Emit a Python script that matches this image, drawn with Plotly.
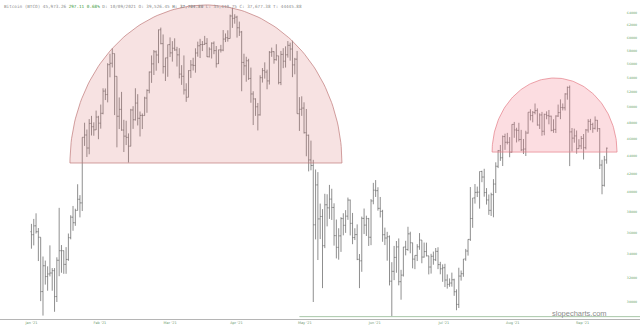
import math
import pandas as pd
import plotly.graph_objects as go

# ---------------- data (USD thousands) ----------------
dates = pd.date_range("2021-01-17", "2021-09-23", freq="D")

opens_k = [
    # Jan 17-31
    36.07, 35.79, 36.63, 36.07, 35.55, 30.83, 32.99, 32.07, 32.29, 32.37, 32.57, 30.43, 33.47, 34.32, 34.32,
    # Feb
    33.11, 33.54, 35.51, 37.47, 36.93, 38.14, 39.27, 38.90, 46.20, 46.48, 44.92, 47.91, 47.50, 47.11, 48.72,
    47.94, 49.20, 52.15, 51.68, 55.89, 56.10, 57.54, 54.21, 48.82, 49.71, 47.09, 46.34, 46.19,
    # Mar
    45.14, 49.63, 48.38, 50.54, 48.56, 48.93, 48.91, 51.21, 52.25, 54.82, 56.01, 57.81, 57.33, 61.24, 59.06,
    55.61, 56.90, 58.91, 57.65, 58.35, 58.09, 57.35, 54.53, 54.21, 52.30, 51.31, 55.03, 55.85, 55.78, 57.63, 58.73,
    # Apr
    58.92, 58.92, 59.10, 57.06, 58.21, 59.13, 57.99, 56.03, 58.10, 58.07, 59.77, 59.99, 59.86, 63.50, 63.11,
    63.31, 61.57, 60.89, 56.22, 55.72, 56.47, 53.91, 51.76, 51.09, 50.05, 49.00, 54.02, 55.03, 54.82, 53.56,
    # May
    57.75, 57.83, 56.63, 57.20, 53.33, 57.42, 56.40, 57.36, 58.80, 58.23, 55.86, 56.70, 49.15, 49.72, 49.88,
    46.76, 46.45, 43.54, 42.91, 36.73, 40.78, 37.30, 37.54, 34.77, 38.71, 38.40, 39.29, 38.44, 35.70, 34.62, 35.68,
    # Jun
    37.33, 36.68, 37.57, 39.19, 36.87, 35.52, 35.80, 33.55, 33.42, 37.35, 36.70, 37.33, 35.55, 39.10, 40.22,
    40.17, 38.35, 38.05, 35.79, 35.48, 35.60, 31.68, 32.51, 33.72, 34.66, 31.64, 32.19, 34.65, 34.43, 35.87,
    # Jul
    35.04, 33.57, 33.90, 34.67, 35.29, 33.75, 34.24, 33.86, 32.88, 33.82, 33.52, 34.26, 33.09, 32.73, 32.82,
    31.78, 31.42, 31.53, 31.80, 30.82, 29.81, 32.11, 32.31, 33.58, 34.29, 35.35, 37.34, 39.41, 39.99, 40.01, 42.24,
    # Aug
    41.63, 39.97, 39.20, 38.15, 39.75, 40.87, 42.82, 44.61, 43.79, 46.29, 45.60, 45.59, 44.43, 47.79, 47.10,
    47.05, 45.94, 44.70, 44.80, 46.72, 49.34, 48.91, 49.32, 49.55, 47.71, 48.99, 46.94, 49.06, 48.90, 48.83, 47.05,
    # Sep 1-23
    47.17, 48.85, 49.29, 49.96, 49.92, 51.76, 52.66, 46.86, 46.10, 46.37, 44.85, 45.17, 46.06, 44.96, 47.09,
    48.18, 47.78, 47.30, 48.31, 47.26, 42.96, 40.73, 43.54,
]
highs_k = [
    36.82, 37.30, 37.85, 36.42, 35.55, 33.80, 33.44, 32.94, 34.80, 32.79, 32.79, 33.73, 38.40, 34.83, 34.34,
    34.64, 35.90, 37.66, 38.59, 38.31, 40.85, 39.70, 46.20, 48.00, 47.15, 48.46, 48.87, 48.05, 49.55, 48.88,
    50.34, 52.53, 52.51, 56.11, 57.51, 58.35, 57.54, 54.21, 51.29, 52.04, 48.37, 48.25, 46.68,
    49.78, 50.13, 52.54, 51.73, 49.43, 49.18, 51.38, 52.39, 54.90, 57.26, 58.08, 58.01, 61.28, 61.60, 60.50,
    56.90, 58.91, 60.03, 59.45, 59.89, 58.57, 58.36, 55.82, 57.26, 53.23, 55.07, 56.57, 56.91, 58.34, 59.37, 59.80,
    59.46, 60.27, 59.92, 58.49, 59.26, 59.40, 58.69, 58.14, 58.87, 61.20, 60.66, 61.17, 63.73, 64.86, 63.79,
    63.54, 62.57, 61.06, 57.52, 57.06, 56.76, 55.47, 52.13, 51.17, 50.55, 54.36, 55.40, 56.23, 55.17, 57.92,
    58.45, 57.90, 58.97, 57.20, 57.94, 58.36, 58.64, 59.46, 59.21, 59.52, 56.90, 57.94, 51.33, 51.44, 50.64,
    49.76, 46.53, 45.80, 43.55, 42.46, 42.17, 38.83, 38.27, 39.84, 39.79, 40.78, 40.37, 38.86, 37.24, 36.40, 37.47,
    37.86, 38.17, 39.45, 39.24, 37.89, 36.40, 36.77, 34.02, 37.53, 38.33, 37.62, 37.40, 39.29, 41.00, 41.30,
    40.53, 39.51, 38.20, 36.46, 36.06, 35.72, 33.30, 34.75, 35.20, 35.44, 32.64, 34.66, 35.22, 36.54, 36.07,
    35.04, 33.90, 34.91, 35.94, 35.29, 35.06, 35.05, 33.86, 34.04, 34.24, 34.56, 34.63, 33.33, 33.11, 33.16,
    32.25, 31.91, 32.40, 31.89, 31.01, 32.82, 32.58, 33.58, 34.48, 35.36, 40.55, 39.41, 40.87, 40.60, 42.24, 42.32,
    42.54, 40.44, 39.77, 39.95, 41.40, 43.27, 44.69, 45.28, 46.42, 46.64, 46.74, 46.22, 47.81, 48.10, 47.37,
    47.99, 47.11, 46.00, 47.00, 49.34, 49.73, 49.49, 50.48, 49.84, 49.20, 49.38, 49.15, 49.45, 49.63, 48.90, 48.44,
    48.94, 50.34, 51.03, 50.49, 51.86, 52.78, 52.92, 47.34, 47.26, 47.03, 45.97, 46.36, 46.60, 47.22, 48.45,
    48.49, 48.00, 48.80, 48.35, 47.33, 43.56, 44.00, 44.98,
]
lows_k = [
    34.50, 34.80, 35.90, 33.40, 30.07, 28.95, 31.40, 30.90, 32.08, 30.90, 29.24, 30.00, 32.10, 32.39, 32.30,
    32.30, 33.42, 35.36, 36.16, 36.63, 38.14, 37.45, 38.08, 45.17, 43.88, 44.19, 46.42, 46.39, 47.09, 45.97,
    47.26, 49.07, 50.94, 50.63, 54.07, 55.48, 48.97, 45.00, 47.21, 47.00, 44.45, 45.27, 43.24,
    45.12, 47.23, 48.27, 47.66, 46.30, 47.21, 48.90, 49.27, 51.85, 53.29, 54.40, 55.01, 56.11, 58.96, 54.60,
    53.55, 54.14, 57.02, 56.34, 57.96, 55.62, 53.92, 53.01, 51.68, 50.70, 51.31, 53.98, 55.04, 54.73, 57.07, 56.87,
    57.92, 58.87, 57.02, 56.96, 56.80, 57.45, 55.47, 55.99, 57.70, 57.90, 59.30, 59.37, 59.86, 61.55, 62.23,
    60.00, 60.26, 52.13, 54.37, 53.45, 53.70, 50.58, 47.71, 48.87, 47.04, 48.90, 53.33, 53.89, 52.40, 53.05,
    57.05, 56.04, 56.48, 53.08, 52.97, 55.38, 55.47, 56.93, 56.48, 54.09, 54.50, 49.15, 46.98, 48.87, 46.66,
    43.96, 42.25, 42.37, 30.00, 35.35, 33.49, 35.38, 31.11, 34.55, 36.58, 37.30, 37.20, 34.78, 33.63, 33.52, 34.21,
    35.73, 35.96, 37.21, 35.72, 34.91, 35.29, 33.48, 31.11, 32.47, 35.85, 35.67, 34.75, 34.82, 38.76, 39.51,
    38.12, 37.44, 35.13, 34.83, 33.43, 31.33, 28.89, 31.77, 32.39, 31.34, 30.18, 32.07, 33.90, 34.31, 34.09,
    32.77, 32.70, 33.40, 34.40, 33.21, 33.70, 33.81, 32.25, 32.32, 33.08, 33.40, 32.70, 32.26, 31.63, 31.20,
    31.07, 31.22, 31.23, 30.49, 29.36, 29.53, 31.73, 32.05, 33.42, 33.88, 35.21, 36.44, 38.83, 39.50, 38.32, 41.07,
    39.54, 38.73, 37.70, 37.59, 37.46, 39.92, 42.62, 43.43, 42.85, 44.70, 45.35, 43.85, 44.39, 46.14, 45.58,
    45.70, 44.56, 44.22, 43.99, 46.64, 48.29, 48.05, 49.07, 47.64, 47.22, 46.39, 46.45, 48.44, 47.80, 46.93, 46.75,
    46.72, 48.73, 48.45, 49.57, 49.56, 50.99, 42.84, 44.52, 45.55, 44.26, 44.82, 44.79, 43.59, 44.75, 46.77,
    47.08, 46.75, 47.16, 46.87, 42.51, 39.79, 40.60, 43.11,
]
closes_k = [
    35.79, 36.63, 36.07, 35.55, 30.83, 32.99, 32.07, 32.29, 32.37, 32.57, 30.43, 33.47, 34.32, 34.32, 33.11,
    33.54, 35.51, 37.47, 36.93, 38.14, 39.27, 38.90, 46.20, 46.48, 44.92, 47.91, 47.50, 47.11, 48.72, 47.94,
    49.20, 52.15, 51.68, 55.89, 56.10, 57.54, 54.21, 48.82, 49.71, 47.09, 46.34, 46.19, 45.14,
    49.63, 48.38, 50.54, 48.56, 48.93, 48.91, 51.21, 52.25, 54.82, 56.01, 57.81, 57.33, 61.24, 59.06, 55.61,
    56.90, 58.91, 57.65, 58.35, 58.09, 57.35, 54.53, 54.21, 52.30, 51.31, 55.03, 55.85, 55.78, 57.63, 58.73, 58.92,
    58.92, 59.10, 57.06, 58.21, 59.13, 57.99, 56.03, 58.10, 58.07, 59.77, 59.99, 59.86, 63.50, 63.11, 63.31,
    61.57, 60.89, 56.22, 55.72, 56.47, 53.91, 51.76, 51.09, 50.05, 49.00, 54.02, 55.03, 54.82, 53.56, 57.75,
    57.83, 56.63, 57.20, 53.33, 57.42, 56.40, 57.36, 58.80, 58.23, 55.86, 56.70, 49.15, 49.72, 49.88, 46.76,
    46.45, 43.54, 42.91, 36.73, 40.78, 37.30, 37.54, 34.77, 38.71, 38.40, 39.29, 38.44, 35.70, 34.62, 35.68, 37.33,
    36.68, 37.57, 39.19, 36.87, 35.52, 35.80, 33.55, 33.42, 37.35, 36.70, 37.33, 35.55, 39.10, 40.22, 40.17,
    38.35, 38.05, 35.79, 35.48, 35.60, 31.68, 32.51, 33.72, 34.66, 31.64, 32.19, 34.65, 34.43, 35.87, 35.04,
    33.57, 33.90, 34.67, 35.29, 33.75, 34.24, 33.86, 32.88, 33.82, 33.52, 34.26, 33.09, 32.73, 32.82, 31.78,
    31.42, 31.53, 31.80, 30.82, 29.81, 32.11, 32.31, 33.58, 34.29, 35.35, 37.34, 39.41, 39.99, 40.01, 42.24, 41.63,
    39.97, 39.20, 38.15, 39.75, 40.87, 42.82, 44.61, 43.79, 46.29, 45.60, 45.59, 44.43, 47.79, 47.10, 47.05,
    45.94, 44.70, 44.80, 46.72, 49.34, 48.91, 49.32, 49.55, 47.71, 48.99, 46.94, 49.06, 48.90, 48.83, 47.05, 47.17,
    48.85, 49.29, 49.96, 49.92, 51.76, 52.66, 46.86, 46.10, 46.37, 44.85, 45.17, 46.06, 44.96, 47.09, 48.18,
    47.78, 47.30, 48.31, 47.26, 42.96, 40.73, 43.54, 44.90,
]

# dome drawings: (start date, end date, base price, top price)
dome_left = ("2021-02-02 16:00", "2021-05-31 10:00", 43190.0, 65360.0)
dome_right = ("2021-08-04 10:00", "2021-09-27 12:00", 44445.88, 53970.0)
support_level = 28870.0
support_start = "2021-05-13"

x_tick_dates = ["2021-01-17", "2021-02-15 16:00", "2021-03-18", "2021-04-15 18:00", "2021-05-15 08:00",
                "2021-06-14 14:00", "2021-07-14 12:00", "2021-08-13 08:00", "2021-09-12 14:00"]
x_tick_text = ["Jan '21", "Feb '21", "Mar '21", "Apr '21", "May '21", "Jun '21", "Jul '21", "Aug '21", "Sep '21"]
y_tick_vals = list(range(30000, 64001, 2000))
y_tick_text = [str(v) for v in y_tick_vals]

header = ("Bitcoin (BTCO) 45,973.26 <span style='color:#3c9a3c'>297.11 0.68%</span> D: 10/09/2021 "
          "O: 39,526.45 <b>H: 37,704.80</b> L: 35,410.75 C: 37,677.38 T: 44445.88")

X_START = "2021-01-03 09:20"
X_END = "2021-10-07 10:30"

# ---------------- figure ----------------
fig = go.Figure()


def dome(spec, fill, line):
    s, e, base, top = spec
    s = pd.Timestamp(s)
    e = pd.Timestamp(e)
    half = (e - s) / 2
    c = s + half
    lb, lt = math.log10(base), math.log10(top)
    xs, ys = [], []
    n = 120
    for i in range(n + 1):
        t = math.pi * i / n
        xs.append(c + half * math.cos(t))
        ys.append(10 ** (lb + (lt - lb) * math.sin(t)))
    xs.append(xs[0])
    ys.append(ys[0])
    fig.add_trace(go.Scatter(x=xs, y=ys, mode="lines", fill="toself", fillcolor=fill,
                             line=dict(color=line, width=0.7), hoverinfo="skip"))


dome(dome_left, "rgba(215,110,110,0.20)", "rgb(190,120,120)")
dome(dome_right, "rgba(245,120,135,0.25)", "rgb(228,125,135)")

fig.add_trace(go.Scatter(x=[support_start, X_END], y=[support_level, support_level], mode="lines",
                         line=dict(color="#a9c7a9", width=1), hoverinfo="skip"))

bar_color = "#727272"
fig.add_trace(go.Ohlc(
    x=dates,
    open=[v * 1000 for v in opens_k],
    high=[v * 1000 for v in highs_k],
    low=[v * 1000 for v in lows_k],
    close=[v * 1000 for v in closes_k],
    increasing=dict(line=dict(color=bar_color, width=0.8)),
    decreasing=dict(line=dict(color=bar_color, width=0.8)),
    tickwidth=0.45,
))

fig.update_layout(
    width=640, height=330,
    margin=dict(l=0, r=0, t=0, b=11),
    paper_bgcolor="white", plot_bgcolor="white",
    showlegend=False,
    xaxis=dict(
        type="date", range=[X_START, X_END], rangeslider=dict(visible=False),
        tickvals=x_tick_dates, ticktext=x_tick_text,
        tickfont=dict(family="DejaVu Sans", size=3.5, color="#6f9a6f"),
        showgrid=False, zeroline=False, showline=True, linecolor="#b5b5b5", linewidth=1,
        ticks="",
    ),
    yaxis=dict(
        type="log", range=[4.45776, 4.82098], side="right",
        tickvals=y_tick_vals, ticktext=y_tick_text, ticklabelposition="inside",
        tickfont=dict(family="DejaVu Sans", size=3.2, color="#5f9f5f"),
        showgrid=False, zeroline=False, showline=False, ticks="",
    ),
    annotations=[
        dict(text=header, xref="paper", yref="paper", x=0.003, y=1.0, xanchor="left", yanchor="top",
             showarrow=False, font=dict(family="DejaVu Sans Mono", size=4.3, color="#8c8c8c"), yshift=-2),
        dict(text="slopecharts.com", xref="paper", yref="paper", x=0.952, y=0.016, xanchor="right",
             yanchor="middle", showarrow=False,
             font=dict(family="Liberation Sans", size=7.5, color="#8d8d8d")),
    ],
)

fig.write_html("out.html")
